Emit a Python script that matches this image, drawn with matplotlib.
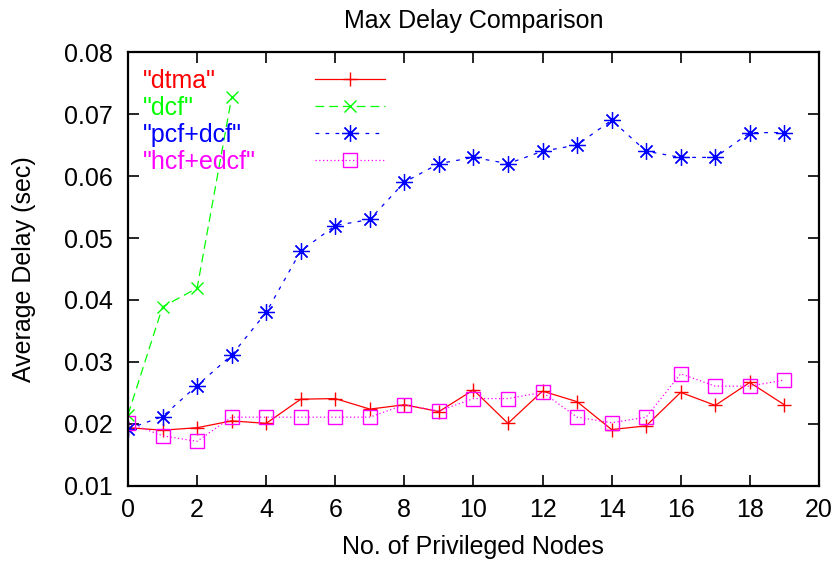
import matplotlib
matplotlib.use("Agg")
import matplotlib.pyplot as plt
from matplotlib.lines import Line2D

plt.rcParams['font.family'] = ['Liberation Sans', 'DejaVu Sans']

# privileged node counts on the x axis
nodes = list(range(20))

# average delay (sec) per scheme
dtma = [0.0194, 0.0190, 0.0194, 0.0205, 0.0201, 0.0240, 0.0241, 0.0224, 0.0231, 0.0220,
        0.0255, 0.0201, 0.0253, 0.0236, 0.0191, 0.0197, 0.0251, 0.0230, 0.0267, 0.0231]
dcf_nodes = [0, 1, 2, 3]
dcf = [0.0215, 0.0389, 0.0419, 0.0727]
pcf_dcf = [0.0192, 0.0212, 0.0262, 0.0311, 0.0380, 0.0479, 0.0520, 0.0530, 0.0590, 0.0620,
           0.0630, 0.0620, 0.0640, 0.0650, 0.0690, 0.0640, 0.0630, 0.0630, 0.0670, 0.0670]
hcf_edcf = [0.0202, 0.0181, 0.0172, 0.0211, 0.0211, 0.0211, 0.0211, 0.0211, 0.0231, 0.0221,
            0.0241, 0.0241, 0.0251, 0.0211, 0.0202, 0.0211, 0.0281, 0.0261, 0.0261, 0.0271]

names = ['"dtma"', '"dcf"', '"pcf+dcf"', '"hcf+edcf"']
colors = ['#ff0000', '#00ff00', '#0000ff', '#ff00ff']

fig = plt.figure(figsize=(8.33, 5.63), dpi=100)
ax = fig.add_axes([0.1537, 0.1368, 0.8293, 0.7708])

l1, = ax.plot(nodes, dtma, color=colors[0], lw=0.9, linestyle='-',
              marker='+', markersize=10, markeredgewidth=1.0)
l2, = ax.plot(dcf_nodes, dcf, color=colors[1], lw=0.9, linestyle=(0, (7, 4)),
              marker='x', markersize=9, markeredgewidth=1.0)
l3, = ax.plot(nodes, pcf_dcf, color=colors[2], lw=0.9, linestyle=(0, (3, 5)),
              marker=(8, 2, 0), markersize=12, markeredgewidth=0.9)
l4, = ax.plot(nodes, hcf_edcf, color=colors[3], lw=0.9, linestyle=(0, (1, 2)),
              marker='s', markersize=9.5, markeredgewidth=1.0, fillstyle='none')

ax.set_xlim(0, 20)
ax.set_ylim(0.01, 0.08)
ax.set_xticks(range(0, 21, 2))
ax.set_yticks([0.01, 0.02, 0.03, 0.04, 0.05, 0.06, 0.07, 0.08])
ax.set_yticklabels(['0.01', '0.02', '0.03', '0.04', '0.05', '0.06', '0.07', '0.08'])
ax.tick_params(direction='in', length=8, width=1.2, top=True, right=True,
               labelsize=18)
ax.tick_params(axis='y', pad=11)
ax.tick_params(axis='x', pad=9)
for s in ax.spines.values():
    s.set_linewidth(1.6)

ax.set_title('Max Delay Comparison', fontsize=18, pad=17)
ax.set_xlabel('No. of Privileged Nodes', fontsize=18, labelpad=9)
ax.set_ylabel('Average Delay (sec)', fontsize=18, labelpad=20)

# key: coloured names on the left, line samples on the right
lines = [l1, l2, l3, l4]
blank = [Line2D([], [], linestyle='none') for _ in lines]
key_text = ax.legend(blank, names, loc='upper left', bbox_to_anchor=(0.007, 0.985),
                     frameon=False, fontsize=18, handlelength=0, handletextpad=0,
                     labelspacing=0.12, borderaxespad=0, labelcolor=colors)
ax.add_artist(key_text)
ax.legend(lines, [''] * 4, loc='upper left', bbox_to_anchor=(0.256, 0.985),
          frameon=False, fontsize=18, handlelength=2.8, handletextpad=0,
          labelspacing=0.12, borderaxespad=0)

fig.savefig('out.png', dpi=100)
